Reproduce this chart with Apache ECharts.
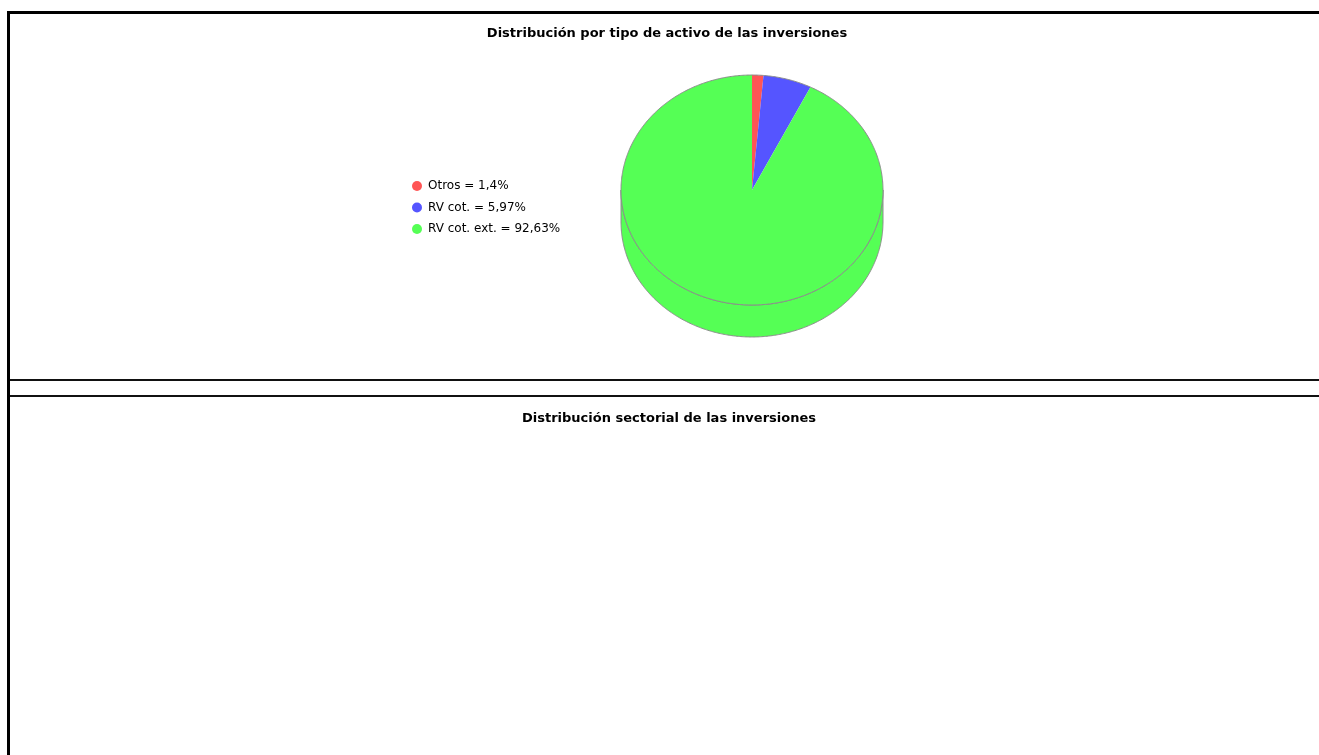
<!DOCTYPE html>
<html><head><meta charset="utf-8">
<script src="https://cdn.jsdelivr.net/npm/echarts@6/dist/echarts.min.js"></script>
<style>html,body{margin:0;padding:0;background:#fff;}#c{width:1319px;height:755px;}</style>
</head><body><div id="c"></div>
<script>
const titles = ['Distribución por tipo de activo de las inversiones', 'Distribución sectorial de las inversiones'];
const categories = ['Otros', 'RV cot.', 'RV cot. ext.'];
const values = [1.4, 5.97, 92.63];

const colors = ['#ff5555', '#5555ff', '#55ff55'];
const CX = 752, CY = 190, RX = 131, RY = 115, DEPTH = 32;
const total = values.reduce((a, b) => a + b, 0);
const cum = []; values.reduce((acc, v, i) => { cum[i] = acc; return acc + v; }, 0);

function ang(p) { return -Math.PI / 2 + 2 * Math.PI * p; }
function arcPts(a0, a1, cy) {
  const n = Math.max(2, Math.ceil((a1 - a0) / 0.01));
  const pts = [];
  for (let k = 0; k <= n; k++) {
    const a = a0 + (a1 - a0) * k / n;
    pts.push([CX + RX * Math.cos(a), cy + RY * Math.sin(a)]);
  }
  return pts;
}
const fmt = v => String(v).replace('.', ',');

const chart = echarts.init(document.getElementById('c'), null, {renderer: 'canvas'});
const series = categories.map((name, i) => ({
  type: 'custom', name, coordinateSystem: 'none',
  data: [values[i]],
  itemStyle: {color: colors[i]},
  silent: true,
  renderItem: (params, api) => {
    const a0 = ang(cum[i] / total), a1 = ang((cum[i] + api.value(0)) / total);
    const children = [];
    const s = Math.max(a0, 0), e = Math.min(a1, Math.PI);
    if (e > s) {
      const top = arcPts(s, e, CY), bot = arcPts(s, e, CY + DEPTH).reverse();
      children.push({type: 'polygon', z2: 1, shape: {points: top.concat(bot)},
        style: {fill: colors[i], stroke: '#8c8c8c', lineWidth: 1}});
    }
    children.push({type: 'polygon', z2: 5, shape: {points: [[CX, CY]].concat(arcPts(a0, a1, CY))},
      style: {fill: colors[i], stroke: null}});
    children.push({type: 'polyline', z2: 6, shape: {points: arcPts(a0, a1, CY)},
      style: {fill: null, stroke: '#8c8c8c', lineWidth: 1}});
    return {type: 'group', children};
  }
}));

chart.setOption({
  animation: false,
  title: [
    {text: titles[0], left: 662, top: 22, textAlign: 'center',
     textStyle: {fontFamily: 'DejaVu Sans, sans-serif', fontSize: 13, fontWeight: 'bold', color: '#000'}},
    {text: titles[1], left: 664, top: 407, textAlign: 'center',
     textStyle: {fontFamily: 'DejaVu Sans, sans-serif', fontSize: 13, fontWeight: 'bold', color: '#000'}}
  ],
  legend: {
    orient: 'vertical', left: 412, top: 180, icon: 'circle', padding: 0,
    itemWidth: 10, itemHeight: 10, itemGap: 9.5,
    data: categories,
    selectedMode: false,
    formatter: name => name + ' = ' + fmt(values[categories.indexOf(name)]) + '%',
    textStyle: {fontFamily: 'DejaVu Sans, sans-serif', fontSize: 12, lineHeight: 10, color: '#000', padding: [0, 0, 0, 1]}
  },
  graphic: [
    {type: 'rect', shape: {x: 7, y: 11, width: 1312, height: 3}, style: {fill: '#000'}},
    {type: 'rect', shape: {x: 7, y: 11, width: 3, height: 744}, style: {fill: '#000'}},
    {type: 'rect', shape: {x: 10, y: 379, width: 1309, height: 2}, style: {fill: '#111'}},
    {type: 'rect', shape: {x: 10, y: 395, width: 1309, height: 2}, style: {fill: '#111'}}
  ],
  series
});
</script></body></html>
